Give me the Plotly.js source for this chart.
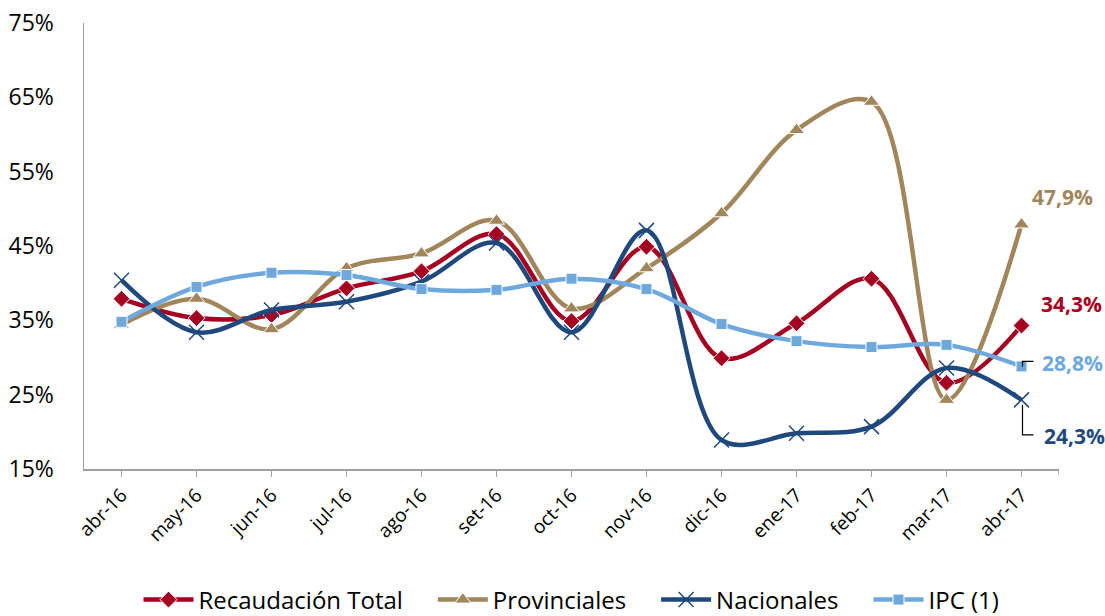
<!DOCTYPE html>
<html>
<head>
<meta charset="utf-8">
<script src="https://cdn.plot.ly/plotly-3.0.1.min.js"></script>
<style>html,body{margin:0;padding:0;background:#fff;}#chart{width:1105px;height:616px;}</style>
</head>
<body>
<div id="chart"></div>
<script>
const months = ['abr-16','may-16','jun-16','jul-16','ago-16','set-16','oct-16','nov-16','dic-16','ene-17','feb-17','mar-17','abr-17'];
const recaudacion = [37.9, 35.3, 35.7, 39.3, 41.6, 46.6, 34.9, 44.9, 29.9, 34.6, 40.6, 26.6, 34.3];
const provinciales = [34.4, 37.9, 33.8, 42.0, 44.0, 48.4, 36.6, 42.0, 49.4, 60.6, 64.4, 24.3, 47.9];
const nacionales = [40.4, 33.4, 36.4, 37.5, 40.2, 45.4, 33.4, 47.1, 18.9, 19.8, 20.7, 28.6, 24.3];
const ipc = [34.8, 39.5, 41.4, 41.1, 39.2, 39.1, 40.6, 39.2, 34.5, 32.2, 31.4, 31.7, 28.8];
const seriesNames = ['Recaudación Total', 'Provinciales', 'Nacionales', 'IPC (1)'];

const C_REC = '#A50021', C_PROV = '#A0865A', C_NAC = '#1F497D', C_IPC = '#6FA8DC';
const FONT = 'Open Sans, Liberation Sans, sans-serif';
const PAD = '\u00a0\u00a0\u00a0\u00a0';

function tr(name, y, color, symbol, size, mline) {
  return {
    type: 'scatter', mode: 'lines+markers', x: months, y: y, name: name,
    line: {color: color, width: 4.5, shape: 'spline', smoothing: 1},
    marker: {color: color, symbol: symbol, size: size, line: mline},
    cliponaxis: false
  };
}

const traces = [
  tr(seriesNames[0] + PAD, recaudacion, C_REC, 'diamond', 13, {color: '#fff', width: 1}),
  tr(seriesNames[1] + PAD, provinciales, C_PROV, 'triangle-up', 14, {color: '#fff', width: 1}),
  tr(seriesNames[2] + PAD, nacionales, C_NAC, 'x-thin', 15, {color: C_NAC, width: 1.5}),
  tr(seriesNames[3], ipc, C_IPC, 'square', 11, {color: '#fff', width: 1})
];

const last = months.length - 1;
function fmt(v) { return v.toFixed(1).replace('.', ',') + '%'; }
function lab(y, color, xshift, yshift) {
  return {xref: 'x', yref: 'y', x: last, y: y, text: '<b>' + fmt(y) + '</b>', showarrow: false,
    xanchor: 'left', yanchor: 'middle', xshift: xshift, yshift: yshift,
    font: {family: FONT, size: 21, color: color}};
}

const layout = {
  width: 1105, height: 616,
  margin: {l: 84, r: 46, t: 23, b: 147, autoexpand: false},
  paper_bgcolor: '#fff', plot_bgcolor: '#fff',
  font: {family: FONT, color: '#000'},
  showlegend: true,
  legend: {orientation: 'h', x: 0.5, xanchor: 'center', y: -0.2937, yanchor: 'middle',
    font: {family: FONT, size: 24, color: '#000'}, itemwidth: 50, traceorder: 'normal'},
  xaxis: {
    type: 'category', range: [-0.5, 12.5], showgrid: false, zeroline: false,
    showline: true, linecolor: '#A0A0A0', linewidth: 1.5, automargin: false,
    ticks: 'outside', ticklen: 6, tickwidth: 1.5, tickcolor: '#A0A0A0',
    tickangle: -45, tickfont: {family: FONT, size: 19, color: '#000'}
  },
  yaxis: {
    range: [15, 75], dtick: 10, tick0: 15, showgrid: false, zeroline: false,
    showline: true, linecolor: '#A0A0A0', linewidth: 1.5, ticks: '', automargin: false,
    ticksuffix: '%', ticklabelstandoff: 24,
    tickfont: {family: FONT, size: 23, color: '#000'}
  },
  annotations: [
    lab(provinciales[last], C_PROV, 8, 27),
    lab(recaudacion[last], C_REC, 17, 22),
    lab(ipc[last], C_IPC, 18, 3),
    lab(nacionales[last], C_NAC, 20, -36)
  ],
  shapes: [
    {type: 'path', xref: 'x', yref: 'y', xsizemode: 'pixel', ysizemode: 'pixel',
      xanchor: last, yanchor: nacionales[last], path: 'M1,-5 V-35 H12',
      line: {color: '#000', width: 1.2}},
    {type: 'path', xref: 'x', yref: 'y', xsizemode: 'pixel', ysizemode: 'pixel',
      xanchor: last, yanchor: ipc[last], path: 'M1,0 V5 H12',
      line: {color: '#000', width: 1.2}},
    {type: 'line', xref: 'x', yref: 'paper', x0: 12.5, x1: 12.5, ysizemode: 'pixel', yanchor: 0,
      y0: 0, y1: -6, line: {color: '#A0A0A0', width: 1.5}}
  ]
};

Plotly.newPlot('chart', traces, layout, {displayModeBar: false, staticPlot: true});
</script>
</body>
</html>
